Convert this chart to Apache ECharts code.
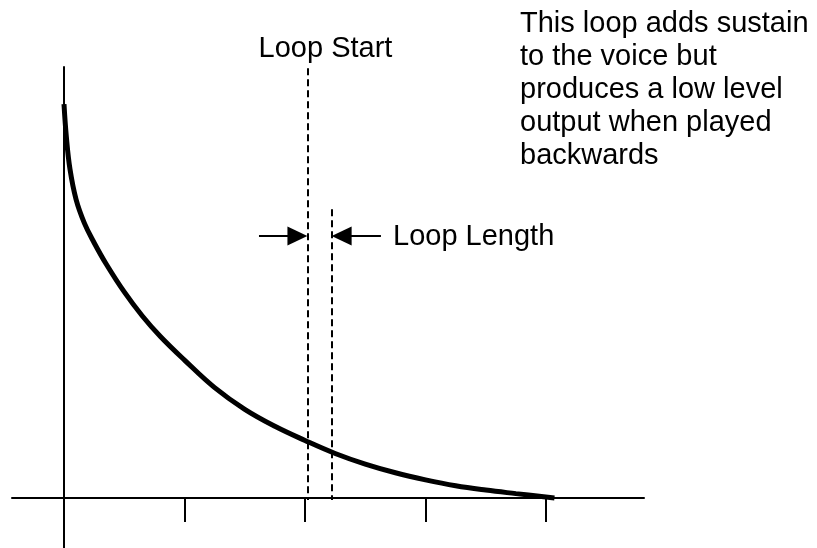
<!DOCTYPE html>
<html>
<head>
<meta charset="utf-8">
<script src="https://cdn.jsdelivr.net/npm/echarts@6/dist/echarts.min.js"></script>
<style>
html,body{margin:0;padding:0;background:#fff;}
#chart{width:817px;height:548px;}
</style>
</head>
<body>
<div id="chart"></div>
<script>
// Decay curve (x in tick units, y relative level)
var curveX = [0, 0.02, 0.05, 0.1, 0.17, 0.25, 0.35, 0.5, 0.65, 0.8, 1.0, 1.25, 1.5, 1.75, 2.0, 2.25, 2.5, 2.75, 3.0, 3.25, 3.5, 3.75, 4.07];
var curveY = [1.0, 0.915, 0.834, 0.758, 0.697, 0.648, 0.594, 0.523, 0.462, 0.410, 0.350, 0.280, 0.225, 0.182, 0.146, 0.113, 0.086, 0.064, 0.046, 0.031, 0.020, 0.011, 0.0];
// x-axis tick values
var tickValues = [1, 2, 3, 4];
// loop markers
var loopStartX = 2.02;
var loopEndX = 2.22;
var loopStartTop = 1.091;
var loopEndTop = 0.733;
var arrowY = 0.665;
var arrowLeftFrom = 1.618, arrowLeftTo = 1.937;
var arrowRightFrom = 2.63, arrowRightTo = 2.304;
// texts
var loopStartLabel = 'Loop Start';
var loopLengthLabel = 'Loop Length';
var noteLines = ['This loop adds sustain', 'to the voice but', 'produces a low level', 'output when played', 'backwards'];

var FONT = '"Liberation Sans", Arial, sans-serif';
var chart = echarts.init(document.getElementById('chart'), null, {renderer: 'canvas'});
var pts = curveX.map(function (x, i) { return [x, curveY[i]]; });

var dashStyle = {color: '#000', width: 2, type: [7, 4]};
var arrowStyle = {color: '#000', width: 2, type: 'solid'};

chart.setOption({
  backgroundColor: '#fff',
  animation: false,
  grid: {left: 12, right: 173, top: 67, bottom: 0, containLabel: false},
  xAxis: {
    type: 'value', min: -0.4315, max: 4.813,
    axisLine: {show: true, onZero: true, lineStyle: {color: '#000', width: 2}},
    axisTick: {show: true, customValues: tickValues, length: 24, inside: false, lineStyle: {color: '#000', width: 2}},
    axisLabel: {show: false},
    splitLine: {show: false}
  },
  yAxis: {
    type: 'value', min: -0.127, max: 1.094,
    axisLine: {show: true, onZero: true, lineStyle: {color: '#000', width: 2}},
    axisTick: {show: false},
    axisLabel: {show: false},
    splitLine: {show: false}
  },
  series: [{
    type: 'line',
    data: pts,
    symbol: 'none',
    smooth: 0.4,
    silent: true,
    lineStyle: {color: '#000', width: 5, cap: 'butt'},
    markLine: {
      silent: true,
      animation: false,
      label: {show: false},
      emphasis: {disabled: true},
      symbol: ['none', 'none'],
      data: [
        [{coord: [loopStartX, loopStartTop], lineStyle: dashStyle}, {coord: [loopStartX, -0.005]}],
        [{coord: [loopEndX, loopEndTop], lineStyle: dashStyle}, {coord: [loopEndX, -0.005]}],
        [{coord: [arrowLeftFrom, arrowY], lineStyle: arrowStyle, symbol: 'none'}, {coord: [arrowLeftTo, arrowY], symbol: 'triangle', symbolSize: [19, 20]}],
        [{coord: [arrowRightFrom, arrowY], lineStyle: arrowStyle, symbol: 'none'}, {coord: [arrowRightTo, arrowY], symbol: 'triangle', symbolSize: [19, 20]}]
      ]
    }
  }],
  graphic: [
    {type: 'text', x: 325.5, y: 48.5, silent: true,
     style: {text: loopStartLabel, font: '29px ' + FONT, fill: '#000', textAlign: 'center', textVerticalAlign: 'middle'}},
    {type: 'text', x: 393, y: 236.5, silent: true,
     style: {text: loopLengthLabel, font: '29px ' + FONT, fill: '#000', textAlign: 'left', textVerticalAlign: 'middle'}},
    {type: 'text', x: 520, y: 7, silent: true,
     style: {text: noteLines.join('\n'), font: '29px ' + FONT, lineHeight: 33, fill: '#000', textAlign: 'left', textVerticalAlign: 'top'}}
  ]
});
</script>
</body>
</html>
